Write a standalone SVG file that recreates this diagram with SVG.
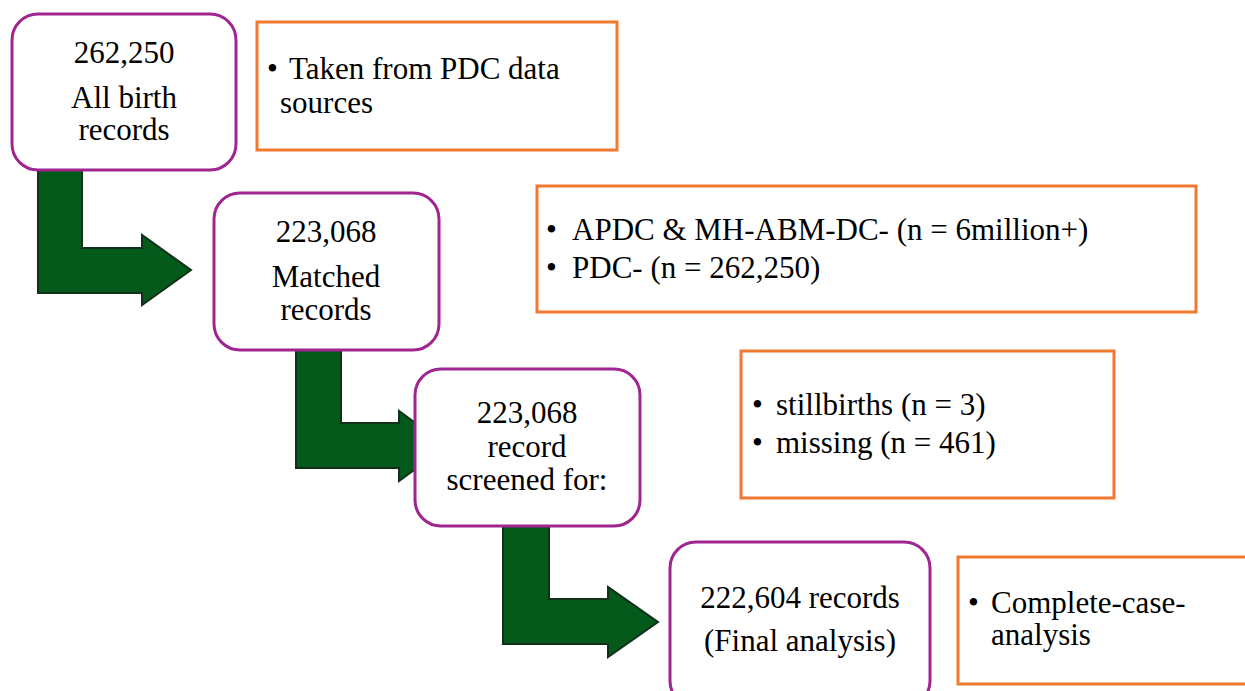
<svg xmlns="http://www.w3.org/2000/svg" width="1245" height="691" viewBox="0 0 1245 691" font-family="Liberation Serif, DejaVu Serif, serif" font-size="31">
  <style>
    .step { fill: #ffffff; stroke: #A02590; stroke-width: 3; }
    .note { fill: #ffffff; stroke: #F07A30; stroke-width: 3; }
    .flow { fill: #045A1B; stroke: #10301A; stroke-width: 2; stroke-linejoin: miter; }
    .c { text-anchor: middle; }
  </style>
  <rect width="1245" height="691" fill="#ffffff"/>

  <!-- bent flow arrows between the steps -->
  <g id="connectors">
    <path class="flow" d="M38,166 L82,166 L82,248 L142,248 L142,235 L191,270 L142,305 L142,293 L38,293 Z"/>
    <path class="flow" d="M296,346 L341,346 L341,423 L399,423 L399,411 L447,446 L399,481 L399,468 L296,468 Z"/>
    <path class="flow" d="M503,522 L549,522 L549,599 L608,599 L608,587 L658,622 L608,657 L608,644 L503,644 Z"/>
  </g>

  <g id="step-all-births">
    <rect class="step" x="12" y="14" width="224" height="156" rx="26"/>
    <text class="c" x="124" y="63">262,250</text>
    <text class="c" x="124" y="108">All birth</text>
    <text class="c" x="124" y="140">records</text>
  </g>

  <g id="note-source">
    <rect class="note" x="257" y="22" width="360" height="128"/>
    <text x="267" y="79">•<tspan x="289">Taken from PDC data</tspan></text>
    <text x="280" y="113">sources</text>
  </g>

  <g id="step-matched">
    <rect class="step" x="214" y="193" width="225" height="157" rx="26"/>
    <text class="c" x="326" y="242">223,068</text>
    <text class="c" x="326" y="287">Matched</text>
    <text class="c" x="326" y="320">records</text>
  </g>

  <g id="note-linkage">
    <rect class="note" x="537" y="186" width="659" height="126"/>
    <text x="546" y="240">•<tspan x="572">APDC &amp; MH-ABM-DC- (n = 6million+)</tspan></text>
    <text x="546" y="278">•<tspan x="572">PDC-  (n = 262,250)</tspan></text>
  </g>

  <g id="step-screened">
    <rect class="step" x="415" y="369" width="225" height="157" rx="26"/>
    <text class="c" x="527" y="423">223,068</text>
    <text class="c" x="527" y="457">record</text>
    <text class="c" x="527" y="490">screened for:</text>
  </g>

  <g id="note-exclusions">
    <rect class="note" x="741" y="351" width="373" height="147"/>
    <text x="752" y="415">•<tspan x="776">stillbirths (n = 3)</tspan></text>
    <text x="752" y="453">•<tspan x="776">missing (n = 461)</tspan></text>
  </g>

  <g id="step-final">
    <rect class="step" x="670" y="542" width="260" height="165" rx="26"/>
    <text class="c" x="800" y="608">222,604 records</text>
    <text class="c" x="800" y="651">(Final analysis)</text>
  </g>

  <g id="note-method">
    <rect class="note" x="958" y="557" width="300" height="127"/>
    <text x="968" y="613">•<tspan x="991">Complete-case-</tspan></text>
    <text x="991" y="645">analysis</text>
  </g>
</svg>
